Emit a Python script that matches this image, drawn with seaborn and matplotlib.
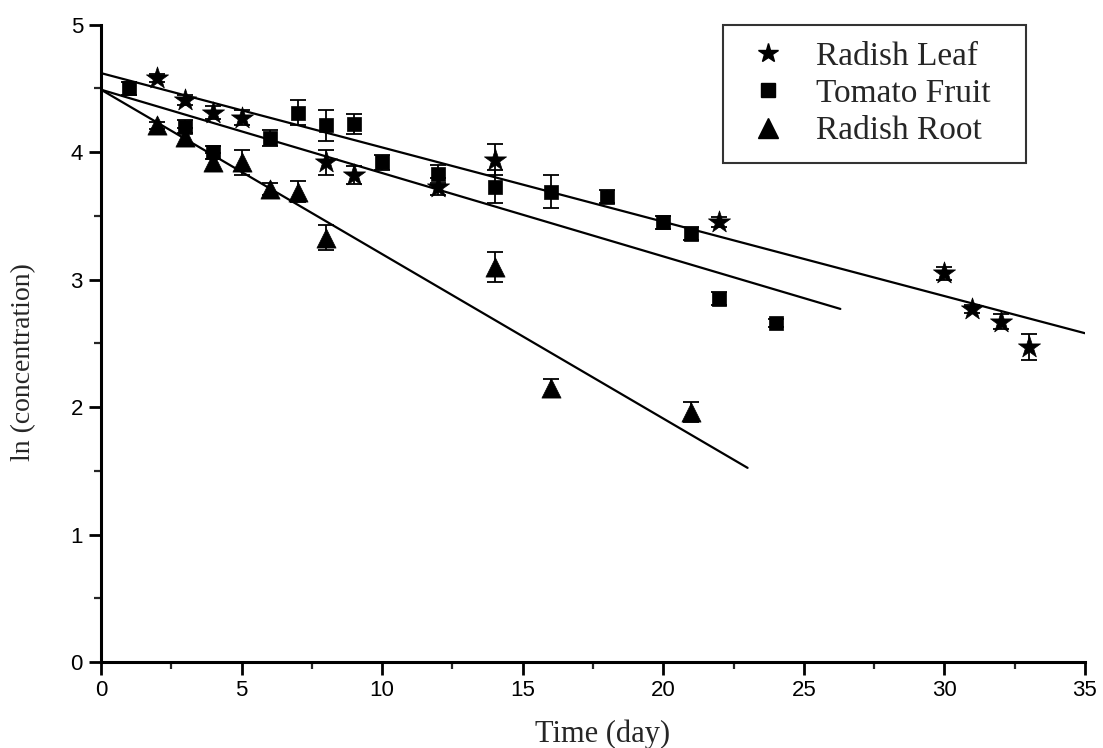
import numpy as np
import pandas as pd
import matplotlib
matplotlib.use("Agg")
import matplotlib.pyplot as plt
from matplotlib.ticker import MultipleLocator
from matplotlib.lines import Line2D
import seaborn as sns

# Radish leaf
leaf_day = [2, 3, 4, 5, 8, 9, 12, 14, 22, 30, 31, 32, 33]
leaf_ln = [4.58, 4.41, 4.31, 4.27, 3.92, 3.82, 3.73, 3.94, 3.45, 3.05, 2.77, 2.67, 2.47]
leaf_err = [0.03, 0.04, 0.05, 0.06, 0.10, 0.07, 0.07, 0.12, 0.04, 0.05, 0.03, 0.06, 0.10]

# Tomato fruit
tomato_day = [1, 3, 4, 6, 7, 8, 9, 10, 12, 14, 16, 18, 20, 21, 22, 24]
tomato_ln = [4.50, 4.20, 4.00, 4.11, 4.31, 4.21, 4.22, 3.92, 3.83, 3.73, 3.69, 3.65, 3.45, 3.36, 2.85, 2.66]
tomato_err = [0.05, 0.05, 0.05, 0.06, 0.10, 0.12, 0.08, 0.06, 0.07, 0.13, 0.13, 0.05, 0.05, 0.05, 0.05, 0.03]

# Radish root
root_day = [2, 3, 4, 5, 6, 7, 8, 14, 16, 21]
root_ln = [4.21, 4.12, 3.92, 3.92, 3.71, 3.69, 3.33, 3.10, 2.15, 1.96]
root_err = [0.03, 0.07, 0.07, 0.10, 0.05, 0.08, 0.10, 0.12, 0.07, 0.08]

series_names = ["Radish Leaf", "Tomato Fruit", "Radish Root"]
# First-order decay fits: intercept, slope, last day of the fitted line
fit_intercept = [4.62, 4.49, 4.49]
fit_slope = [-0.0583, -0.0654, -0.1290]
fit_end = [35.0, 26.3, 23.0]

x_ticks = [0, 5, 10, 15, 20, 25, 30, 35]
y_ticks = [0, 1, 2, 3, 4, 5]

frames = []
for name, d, v, e in zip(series_names,
                         [leaf_day, tomato_day, root_day],
                         [leaf_ln, tomato_ln, root_ln],
                         [leaf_err, tomato_err, root_err]):
    frames.append(pd.DataFrame({"day": d, "ln": v, "err": e, "sample": name}))
data = pd.concat(frames, ignore_index=True)

sns.set_style("ticks")
plt.rcParams["font.family"] = ["Liberation Sans", "DejaVu Sans"]

fig = plt.figure(figsize=(11.03, 7.48), dpi=100)
ax = fig.add_axes([0.0916, 0.115, 0.892, 0.852])

markers = {"Radish Leaf": "*", "Tomato Fruit": "s", "Radish Root": "^"}
sizes = {"Radish Leaf": 280, "Tomato Fruit": 110, "Radish Root": 190}

# fitted lines
for b, m, xe in zip(fit_intercept, fit_slope, fit_end):
    xs = np.array([0.0, xe])
    line_df = pd.DataFrame({"day": xs, "ln": b + m * xs})
    sns.lineplot(data=line_df, x="day", y="ln", ax=ax, color="black",
                 linewidth=1.6, legend=False)

# error bars
for name in series_names:
    sub = data[data["sample"] == name]
    ax.errorbar(sub["day"], sub["ln"], yerr=sub["err"], fmt="none",
                ecolor="black", elinewidth=1.3, capsize=6, capthick=1.3,
                zorder=3)

# points
for name in series_names:
    sub = data[data["sample"] == name]
    sns.scatterplot(data=sub, x="day", y="ln", ax=ax, marker=markers[name],
                    s=sizes[name], color="black", edgecolor="black",
                    linewidth=0.5, zorder=4, legend=False)

ax.set_xlim(0, 35)
ax.set_ylim(0, 5)
ax.set_xticks(x_ticks)
ax.set_yticks(y_ticks)
ax.xaxis.set_minor_locator(MultipleLocator(2.5))
ax.yaxis.set_minor_locator(MultipleLocator(0.5))
ax.tick_params(axis="both", which="major", direction="out", length=9,
               width=2, labelsize=16, colors="black", pad=4)
ax.tick_params(axis="both", which="minor", direction="out", length=5,
               width=1.6)
for side in ["top", "right"]:
    ax.spines[side].set_visible(False)
for side in ["left", "bottom"]:
    ax.spines[side].set_linewidth(2.2)
    ax.spines[side].set_color("black")

serif = ["Liberation Serif", "DejaVu Serif"]
ax.set_xlabel("Time (day)", fontsize=22, family=serif)
ax.xaxis.set_label_coords(0.51, -0.09)
ax.set_ylabel("ln (concentration)", fontsize=20, family=serif)
ax.yaxis.set_label_coords(-0.066, 0.47)

handles = [Line2D([], [], linestyle="none", marker=markers[n], color="black",
                  markersize={"Radish Leaf": 15, "Tomato Fruit": 10,
                              "Radish Root": 15}[n])
           for n in series_names]
leg = ax.legend(handles, series_names, loc="upper left",
                bbox_to_anchor=(0.632, 0.0, 0.308, 1.0), mode="expand",
                frameon=True, fancybox=False, edgecolor="black",
                prop={"family": serif, "size": 24},
                handletextpad=0.56, borderpad=0.5, labelspacing=0.2,
                handlelength=1.73, borderaxespad=0.0)
leg.get_frame().set_linewidth(1.5)

fig.savefig("out.png", dpi=100, facecolor="white")
